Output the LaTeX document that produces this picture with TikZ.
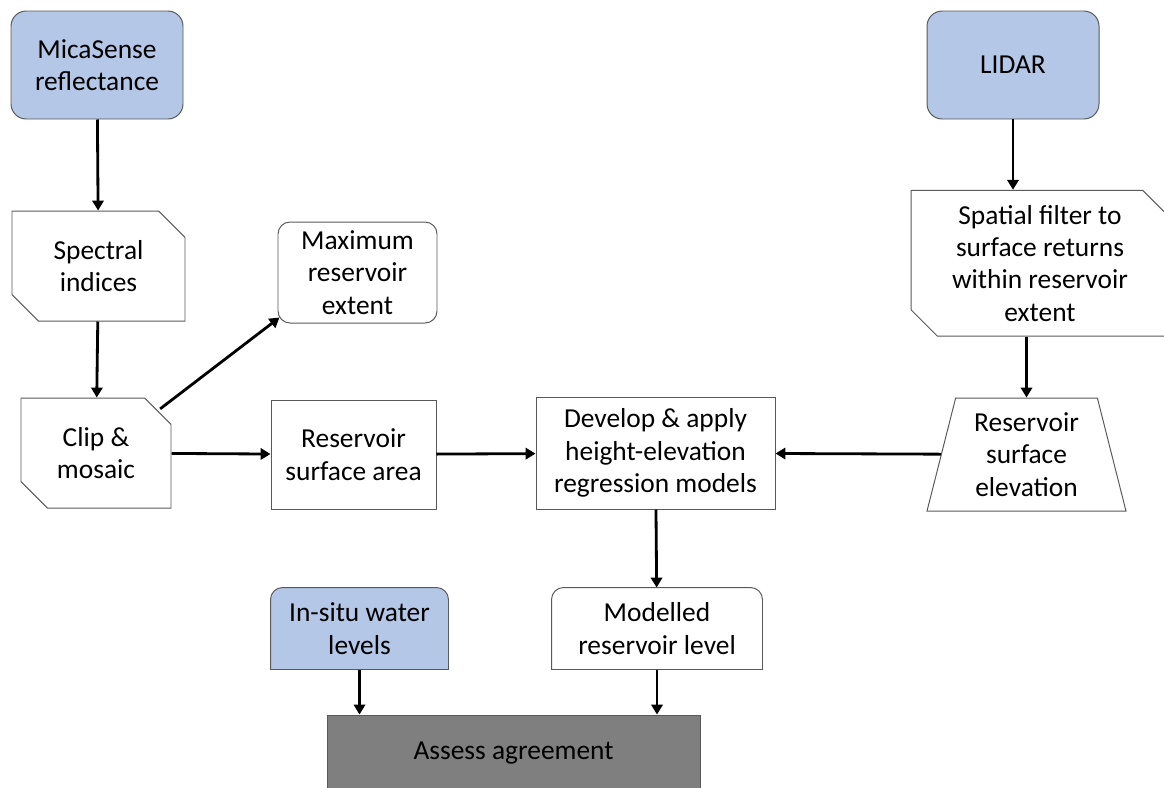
\documentclass[tikz,border=0pt]{standalone}
\usepackage{fontspec}
\setmainfont{Carlito}
\usetikzlibrary{shapes.misc,shapes.geometric,arrows.meta,backgrounds}
\definecolor{srcblue}{HTML}{B4C7E7}
\definecolor{boxline}{HTML}{595959}
\definecolor{assessgrey}{HTML}{7F7F7F}

\begin{document}
\begin{tikzpicture}[
		every node/.style={rectangle, draw=boxline, line width=0.7pt, align=center, inner sep=2pt, font=\fontsize{19.5}{23}\selectfont},
		source/.style={rounded corners=0.38cm, fill=srcblue},
		roundbox/.style={rounded corners=0.3cm},
		snip/.style={chamfered rectangle, chamfered rectangle corners={north east, south west}, chamfered rectangle xsep=0.36cm, chamfered rectangle ysep=0.3cm},
		flow/.style={line width=2pt, -{Triangle[width=8pt,length=7pt]}}
	]
  \useasboundingbox (0,0) rectangle (29.1,-19.675);
  % inputs
  \node (mica) [source, minimum width=4.3cm, minimum height=2.7cm] at (2.425cm, -1.625cm) {MicaSense\\reflectance};
  \node (lidar) [source, minimum width=4.3cm, minimum height=2.7cm] at (25.325cm, -1.625cm) {LIDAR};
  % left branch
  \node (spec) [snip, minimum width=4.325cm, minimum height=2.75cm] at (2.4625cm, -6.65cm) {Spectral\\indices};
  \node (clip) [snip, minimum width=3.75cm, minimum height=2.75cm] at (2.4cm, -11.325cm) {Clip \&\\mosaic};
  \node (max_ext) [roundbox, minimum width=3.975cm, minimum height=2.525cm] at (8.9375cm, -6.8125cm) {Maximum\\reservoir\\extent};
  \node (area) [minimum width=4.125cm, minimum height=2.725cm] at (8.8375cm, -11.3625cm) {Reservoir\\surface area};
  % middle
  \node (model) [minimum width=5.975cm, minimum height=2.8cm] at (16.3875cm, -11.325cm) {Develop \& apply\\height-elevation\\regression models};
  % right branch
  \node (filt) [snip, minimum width=6.45cm, minimum height=3.3cm] at (26cm, -6.58cm) {Spatial filter to\\surface returns\\within reservoir\\extent};
  \node (elev) [trapezium, trapezium left angle=76, trapezium right angle=76, trapezium stretches=true, minimum width=4.975cm, minimum height=2.825cm] at (25.6625cm, -11.3625cm) {Reservoir\\surface\\elevation};
  % bottom
  \node (insitu) [draw=none, minimum width=4.425cm, minimum height=2.025cm] at (8.9875cm, -15.7125cm) {In-situ water\\levels};
  \node (level) [draw=none, minimum width=5.25cm, minimum height=2.025cm] at (16.425cm, -15.7125cm) {Modelled\\reservoir level};
  \node (assess) [fill=assessgrey, minimum width=9.325cm, minimum height=1.9cm] at (12.8375cm, -18.825cm) {Assess agreement};

  \begin{scope}[on background layer]
    \draw[draw=boxline, line width=0.7pt, fill=srcblue] (insitu.south west) [rounded corners=0.3cm] -- (insitu.north west) -- (insitu.north east) [sharp corners] -- (insitu.south east) -- cycle;
    \draw[draw=boxline, line width=0.7pt, fill=white] (level.south west) [rounded corners=0.3cm] -- (level.north west) -- (level.north east) [sharp corners] -- (level.south east) -- cycle;
  \end{scope}

  \draw[flow] (mica) -- (spec);
  \draw[flow] (spec) -- (clip);
  \draw[flow] ([xshift=0.05cm, yshift=0.05cm]clip.north east) -- ([xshift=0.05cm, yshift=0.15cm]max_ext.south west);
  \draw[flow] (clip) -- (area);
  \draw[flow] (area) -- (model);
  \draw[flow] (elev) -- (model);
  \draw[flow] (lidar.south) -- (lidar.south |- filt.north);
  \draw[flow] (filt.south -| elev.north) -- (elev.north);
  \draw[flow] (model) -- (level);
  \draw[flow] (insitu) -- (insitu |- assess.north);
  \draw[flow] (level) -- (level |- assess.north);
\end{tikzpicture}
\end{document}
